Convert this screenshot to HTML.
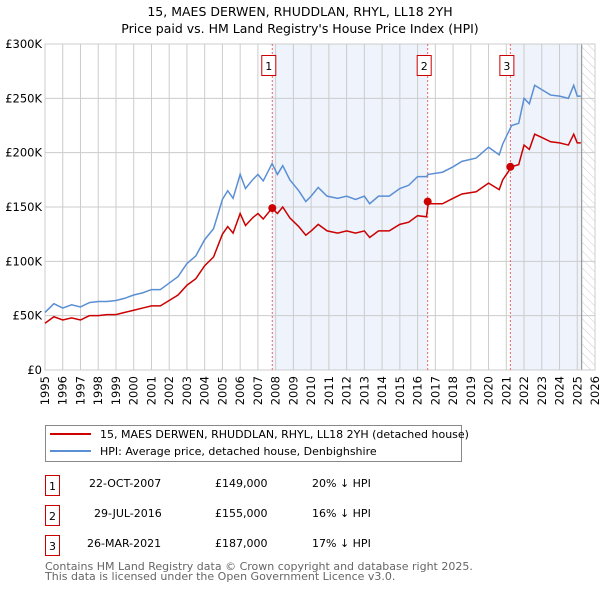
<!DOCTYPE html>
<html><head><meta charset="utf-8"><style>
body{margin:0;background:#fff;font-family:"Liberation Sans","DejaVu Sans",sans-serif}
svg{display:block}
</style></head><body>
<svg id="chart" width="600" height="590" font-family="DejaVu Sans, Liberation Sans, sans-serif">
<defs><pattern id="hatch" width="6" height="6" patternUnits="userSpaceOnUse" patternTransform="rotate(-45)"><line x1="0" y1="0" x2="0" y2="6" stroke="#ccc" stroke-width="1"/></pattern></defs>
<text x="300" y="16" text-anchor="middle" font-size="12.5" fill="#000">15, MAES DERWEN, RHUDDLAN, RHYL, LL18 2YH</text>
<text x="300" y="33" text-anchor="middle" font-size="12.5" fill="#000">Price paid vs. HM Land Registry's House Price Index (HPI)</text>
<g id="plot"></g>
<g>
<rect x="45.5" y="425.5" width="416" height="36" fill="#fff" stroke="#888"/>
<line x1="50" y1="434" x2="91" y2="434" stroke="#cc0000" stroke-width="2"/>
<text x="100" y="438" font-size="11">15, MAES DERWEN, RHUDDLAN, RHYL, LL18 2YH (detached house)</text>
<line x1="50" y1="451" x2="91" y2="451" stroke="#5b8fd4" stroke-width="2"/>
<text x="100" y="455" font-size="11">HPI: Average price, detached house, Denbighshire</text>
</g>
<g font-size="11">
<rect x="45.5" y="475.5" width="14" height="20" fill="#fff" stroke="#cc0000"/><text x="52.5" y="490" text-anchor="middle">1</text>
<text x="89" y="487">22-OCT-2007</text><text x="215" y="487">£149,000</text><text x="312" y="487">20% ↓ HPI</text>
<rect x="45.5" y="505.5" width="14" height="20" fill="#fff" stroke="#cc0000"/><text x="52.5" y="520" text-anchor="middle">2</text>
<text x="94" y="517">29-JUL-2016</text><text x="215" y="517">£155,000</text><text x="312" y="517">16% ↓ HPI</text>
<rect x="45.5" y="535.5" width="14" height="20" fill="#fff" stroke="#cc0000"/><text x="52.5" y="550" text-anchor="middle">3</text>
<text x="87" y="547">26-MAR-2021</text><text x="215" y="547">£187,000</text><text x="312" y="547">17% ↓ HPI</text>
</g>
<text x="45" y="570" font-size="11" fill="#666">Contains HM Land Registry data © Crown copyright and database right 2025.</text>
<text x="45" y="580" font-size="11" fill="#666">This data is licensed under the Open Government Licence v3.0.</text>
</svg>
<script>
const hpiDates=[1995,1995.5,1996,1996.5,1997,1997.5,1998,1998.5,1999,1999.5,2000,2000.5,2001,2001.5,2002,2002.5,2003,2003.5,2004,2004.5,2005,2005.3,2005.6,2006,2006.3,2006.7,2007,2007.3,2007.8,2008.1,2008.4,2008.8,2009.3,2009.7,2010,2010.4,2010.9,2011.5,2012,2012.5,2013,2013.3,2013.8,2014.4,2015,2015.5,2016,2016.5,2016.6,2017.4,2018,2018.5,2019.3,2020,2020.6,2020.8,2021.3,2021.7,2022,2022.3,2022.6,2023,2023.5,2024,2024.5,2024.8,2025.0,2025.2];
const hpiValues=[53,61,57,60,58,62,63,63,64,66,69,71,74,74,80,86,98,105,120,130,157,165,158,180,167,175,180,174,190,180,188,175,165,155,160,168,160,158,160,157,160,153,160,160,167,170,178,178,180,182,187,192,195,205,198,208,225,227,250,245,262,258,253,252,250,262,252,252];
const priceValues=[43,49,46,48,46,50,50,51,51,53,55,57,59,59,64,69,78,84,96,104,125,132,126,144,133,140,144,139,149,144,150,140,132,124,128,134,128,126,128,126,128,122,128,128,134,136,142,141,153,153,158,162,164,172,166,175,187,189,207,203,217,214,210,209,207,217,209,209];
const saleLabels=["1","2","3"];
const saleDates=[2007.81,2016.57,2021.23];
const salePrices=[149,155,187];
const yTicks=[0,50,100,150,200,250,300];
const yTickLabels=["£0","£50K","£100K","£150K","£200K","£250K","£300K"];
const xYears=[1995,1996,1997,1998,1999,2000,2001,2002,2003,2004,2005,2006,2007,2008,2009,2010,2011,2012,2013,2014,2015,2016,2017,2018,2019,2020,2021,2022,2023,2024,2025,2026];
const X0=45,X1=595,Y0=370,Y1=44;
const xs=d=>X0+(d-1995)*(X1-X0)/31;
const ys=v=>Y0-v*(Y0-Y1)/300;
const NS="http://www.w3.org/2000/svg";
const plot=document.getElementById('plot');
function mk(tag,attrs,parent){const e=document.createElementNS(NS,tag);for(const k in attrs)e.setAttribute(k,attrs[k]);(parent||plot).appendChild(e);return e;}
// shading
let s1=mk('rect',{x:xs(saleDates[0]),y:Y1,width:xs(saleDates[1])-xs(saleDates[0]),height:Y0-Y1,fill:'#eef3fc'});


let s2=mk('rect',{x:xs(saleDates[2]),y:Y1,width:xs(2025.25)-xs(saleDates[2]),height:Y0-Y1,fill:'#eef3fc'});


let ht=mk('rect',{x:xs(2025.25),y:Y1,width:X1-xs(2025.25),height:Y0-Y1,fill:'url(#hatch)'});


// grid
xYears.forEach((yr,i)=>{
 const g=mk('line',{x1:xs(yr),x2:xs(yr),y1:Y1,y2:Y0,stroke:'#ccc','stroke-width':1});
 
 
 const t=mk('text',{x:0,y:0,'font-size':11.5,'text-anchor':'end',transform:`translate(${xs(yr)+4},${Y0+6}) rotate(-90)`});
 t.textContent=yr;
 
 
});
yTicks.forEach((v,i)=>{
 const g=mk('line',{x1:X0,x2:X1,y1:ys(v),y2:ys(v),stroke:'#ccc','stroke-width':1});
 
 
 const t=mk('text',{x:X0-3,y:ys(v)+4,'font-size':11.5,'text-anchor':'end'});
 t.textContent=yTickLabels[i];
 
 
});
const nowLine=mk('line',{x1:xs(2025.25),x2:xs(2025.25),y1:Y1,y2:Y0,stroke:'#888','stroke-width':1});


const border=mk('rect',{x:X0,y:Y1,width:X1-X0,height:Y0-Y1,fill:'none',stroke:'#ccc'});


// sale vlines
saleDates.forEach((d,i)=>{
 const l=mk('line',{x1:xs(d),x2:xs(d),y1:Y1,y2:Y0,stroke:'#ee6666','stroke-width':1,'stroke-dasharray':'2,2'});
 
 
});
// series
const hp=mk('polyline',{points:hpiDates.map((d,i)=>xs(d)+','+ys(hpiValues[i])).join(' '),fill:'none',stroke:'#5b8fd4','stroke-width':1.5});


const pp=mk('polyline',{points:hpiDates.map((d,i)=>xs(d)+','+ys(priceValues[i])).join(' '),fill:'none',stroke:'#cc0000','stroke-width':1.5});


saleDates.forEach((d,i)=>{
 const c=mk('circle',{cx:xs(d),cy:ys(salePrices[i]),r:4,fill:'#cc0000'});
 
 
 const b=mk('rect',{x:xs(d)-10.5,y:55.5,width:14,height:20,fill:'#fff',stroke:'#cc0000'});
 
 
 const t=mk('text',{x:xs(d)-3.5,y:70,'font-size':11,'text-anchor':'middle'});
 t.textContent=saleLabels[i];
 
 
});
</script>
</body></html>
